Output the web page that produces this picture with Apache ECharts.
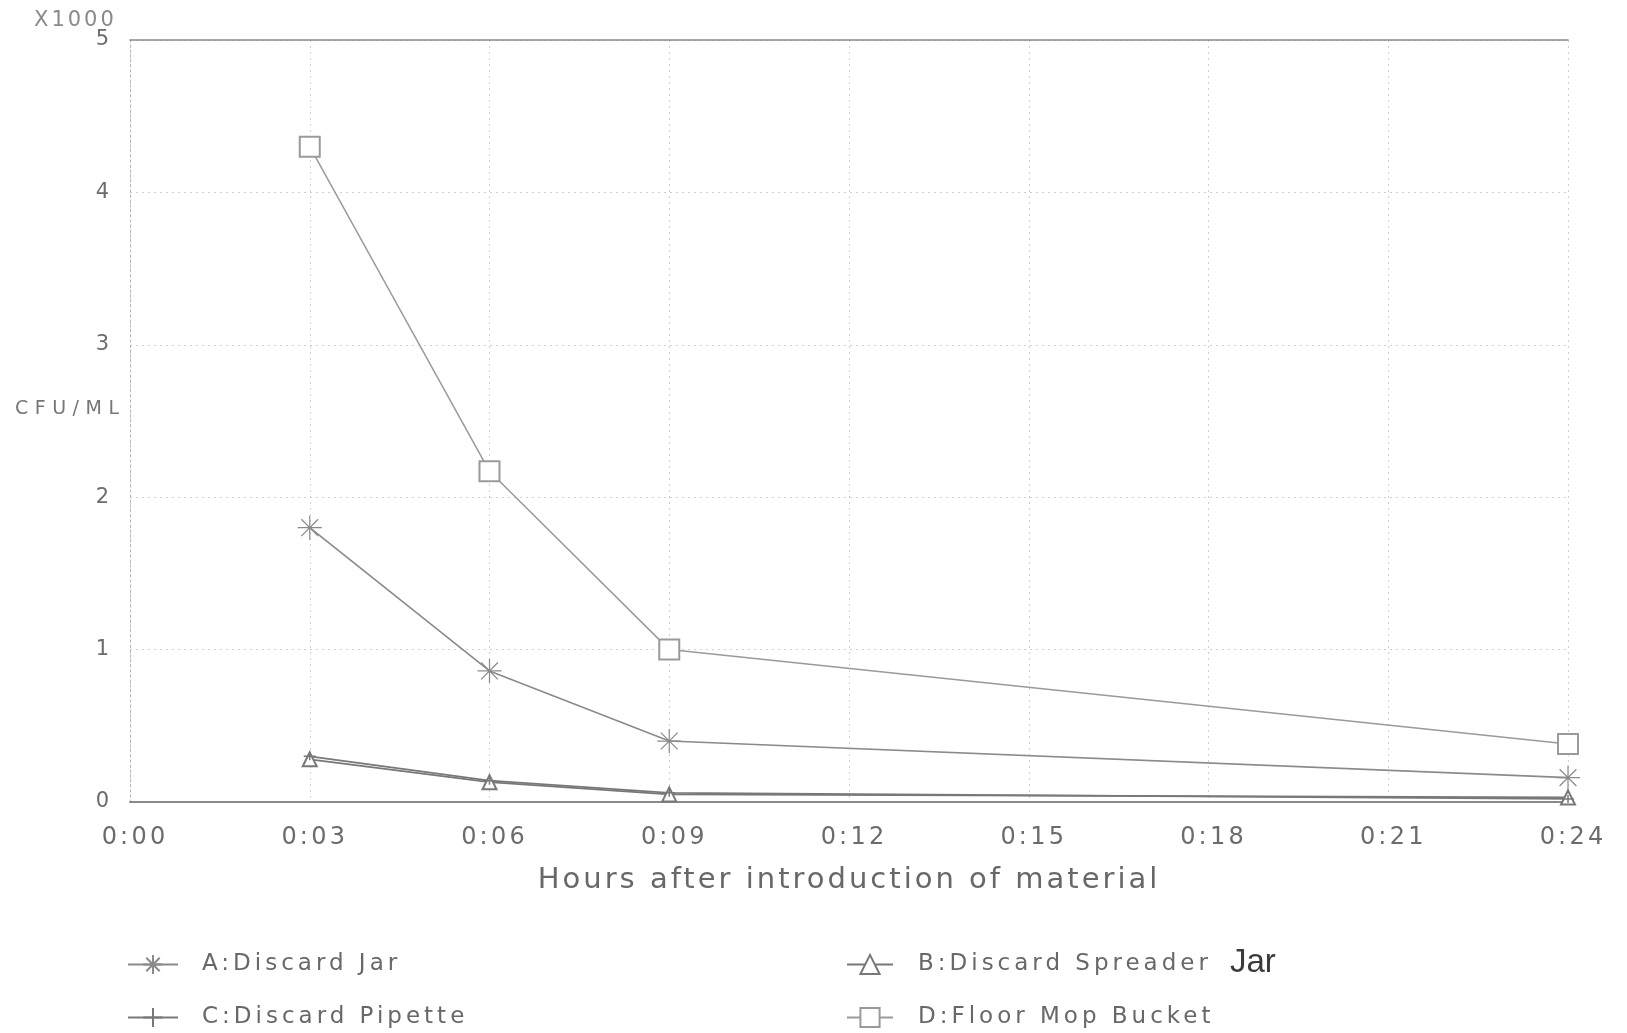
<!DOCTYPE html>
<html>
<head>
<meta charset="utf-8">
<script src="https://cdn.jsdelivr.net/npm/echarts@6/dist/echarts.min.js"></script>
<style>
html,body{margin:0;padding:0;background:#fff;}
#chart{width:1627px;height:1033px;}
</style>
</head>
<body>
<div id="chart"></div>
<script>
// ---- data ----
const hours = [3, 6, 9, 24];
const xTickHours = [0, 3, 6, 9, 12, 15, 18, 21, 24];
const yTicks = [0, 1, 2, 3, 4, 5];
const seriesNames = ['A:Discard Jar', 'B:Discard Spreader', 'C:Discard Pipette', 'D:Floor Mop Bucket'];
const valuesA = [1.80, 0.86, 0.40, 0.16];
const valuesB = [0.28, 0.13, 0.05, 0.03];
const valuesC = [0.30, 0.14, 0.06, 0.02];
const valuesD = [4.30, 2.17, 1.00, 0.38];

// letter spacing emulating the wide typewriter-like print (by font size)
const spacingBySize = {24: 3.2, 29: 3, 23: 4, 21: 3, 19: 6.5};
(function(){
  const proto = CanvasRenderingContext2D.prototype;
  const desc = Object.getOwnPropertyDescriptor(proto, 'font');
  if (!desc || !('letterSpacing' in proto)) return;
  Object.defineProperty(proto, 'font', {
    configurable: true,
    get: function(){ return desc.get.call(this); },
    set: function(v){
      desc.set.call(this, v);
      const m = /(\d+(?:\.\d+)?)px/.exec(v);
      const s = m ? (spacingBySize[Math.round(parseFloat(m[1]))] || 0) : 0;
      this.letterSpacing = s + 'px';
    }
  });
})();

const pair = (vals) => hours.map((h, i) => [h, vals[i]]);
const fmtHour = (v) => '0:' + String(v).padStart(2, '0');

const FONT = 'DejaVu Sans';
const asterisk = 'path://M0,-10L0,10M-10,0L10,0M-7,-7L7,7M-7,7L7,-7';
const plus = 'path://M-6,0L6,0M0,-4L0,4';

const chart = echarts.init(document.getElementById('chart'));
chart.setOption({
  animation: false,
  backgroundColor: '#fff',
  grid: {left: 130, right: 59, top: 40, bottom: 231},
  xAxis: [{
    type: 'value', min: 0, max: 24, interval: 3,
    name: 'Hours after introduction of material',
    nameLocation: 'middle', nameGap: 62,
    nameTextStyle: {fontFamily: FONT, fontSize: 29, color: '#686868'},
    axisLine: {show: true, onZero: false, lineStyle: {color: '#8a8a8a', width: 2}},
    axisTick: {show: false},
    axisLabel: {fontFamily: FONT, fontSize: 24, color: '#6c6c6c', margin: 22, padding: [0, 0, 0, 10],
      formatter: fmtHour, customValues: xTickHours},
    splitLine: {show: true, lineStyle: {color: '#cfcfcf', type: [2, 4], width: 1}}
  }, {
    type: 'value', min: 0, max: 24, interval: 3, position: 'top',
    axisLine: {show: true, onZero: false, lineStyle: {color: '#8a8a8a', width: 1.5}},
    axisTick: {show: false}, axisLabel: {show: false}, splitLine: {show: false}
  }],
  yAxis: {
    type: 'value', min: 0, max: 5, interval: 1,
    axisLine: {show: true, lineStyle: {color: '#b5b5b5', type: [2, 3], width: 1}},
    axisTick: {show: false},
    axisLabel: {fontFamily: FONT, fontSize: 21, color: '#6c6c6c', margin: 18, padding: [6, 0, 0, 0], customValues: yTicks},
    splitLine: {show: true, lineStyle: {color: '#cfcfcf', type: [2, 4], width: 1}}
  },
  legend: [{
    left: 127, top: 951, padding: 0, orient: 'vertical', itemGap: 26, itemWidth: 50, itemHeight: 24,
    data: [seriesNames[0], seriesNames[2]],
    textStyle: {fontFamily: FONT, fontSize: 23, color: '#686868', padding: [0, 0, 0, 19]}
  }, {
    left: 846, top: 951, padding: 0, orient: 'vertical', itemGap: 26, itemWidth: 46, itemHeight: 24,
    data: [seriesNames[1], seriesNames[3]],
    textStyle: {fontFamily: FONT, fontSize: 23, color: '#686868', padding: [0, 0, 0, 20]}
  }],
  graphic: [
    {type: 'text', left: 34, top: 9, style: {text: 'X1000', fontFamily: FONT, fontSize: 21, fill: '#8a8a8a'}},
    {type: 'text', left: 15, top: 396, style: {text: 'CFU/ML', fontFamily: FONT, fontSize: 19, fill: '#777'}},
    {type: 'text', left: 1230, top: 946, style: {text: 'Jar', fontFamily: 'Liberation Sans', fontSize: 33, fill: '#3a3a3a'}}
  ],
  series: [{
    name: seriesNames[0], type: 'line', data: pair(valuesA),
    symbol: asterisk, symbolSize: 24, symbolKeepAspect: true,
    lineStyle: {color: '#8a8a8a', width: 1.6},
    itemStyle: {color: '#8a8a8a', borderColor: '#8a8a8a', borderWidth: 1.2}
  }, {
    name: seriesNames[1], type: 'line', data: pair(valuesB),
    symbol: 'emptyTriangle', symbolSize: 14,
    lineStyle: {color: '#787878', width: 1.8},
    itemStyle: {color: '#787878', borderColor: '#787878', borderWidth: 1.2}
  }, {
    name: seriesNames[2], type: 'line', data: pair(valuesC),
    symbol: plus, symbolSize: 12, symbolKeepAspect: true,
    lineStyle: {color: '#787878', width: 1.8},
    itemStyle: {color: '#787878', borderColor: '#787878', borderWidth: 1.5}
  }, {
    name: seriesNames[3], type: 'line', data: pair(valuesD),
    symbol: 'emptyRect', symbolSize: 20,
    lineStyle: {color: '#9a9a9a', width: 1.5},
    itemStyle: {color: '#9a9a9a', borderColor: '#8a8a8a', borderWidth: 1.3}
  }]
});
</script>
</body>
</html>
